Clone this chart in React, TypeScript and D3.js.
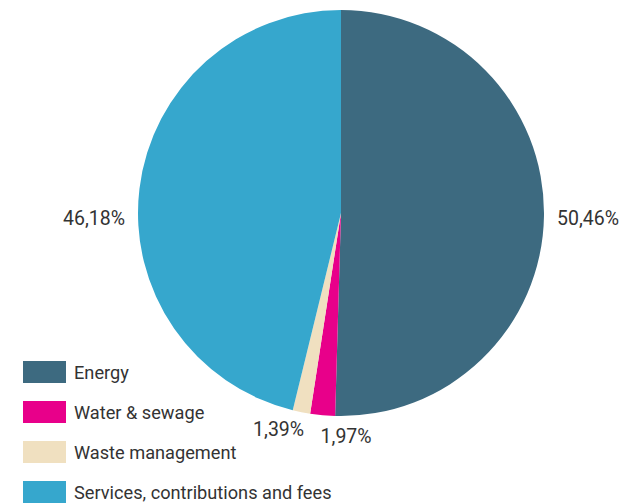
import React from "react";
import * as d3 from "d3";

const categories = ["Energy", "Water & sewage", "Waste management", "Services, contributions and fees"];
const values = [50.46, 1.97, 1.39, 46.18];
const valueLabels = ["50,46%", "1,97%", "1,39%", "46,18%"];
const colors = ["#3d6a80", "#e8008a", "#f0e0c0", "#36a7cd"];

const W = 623;
const H = 504;
const cx = 341;
const cy = 213;
const R = 203;

export default function App() {
  const pie = d3.pie<number>().sort(null).value((d) => d)(values);
  const arc = d3.arc<d3.PieArcDatum<number>>().innerRadius(0).outerRadius(R);
  const font = "Roboto, 'Liberation Sans', sans-serif";

  const labelPos = (p: d3.PieArcDatum<number>, i: number) => {
    const frac = (p.endAngle - p.startAngle) / (2 * Math.PI);
    const mid = (p.startAngle + p.endAngle) / 2;
    if (frac > 0.2) {
      const side = Math.sin(mid) >= 0 ? 1 : -1;
      return { x: cx + side * (R + 13), y: cy + 12, anchor: side > 0 ? "start" : "end" };
    }
    const rr = R + 22;
    const x = cx + Math.sin(mid) * rr;
    const y = cy - Math.cos(mid) * rr;
    const small = pie.filter((q) => (q.endAngle - q.startAngle) / (2 * Math.PI) <= 0.2);
    const idx = small.indexOf(p);
    return idx === 0
      ? { x: x, y: y + 6, anchor: "start" }
      : { x: x + 7, y: y + 2, anchor: "end" };
  };

  return (
    <svg width={W} height={H} style={{ position: "absolute", left: 0, top: 0, background: "#fff" }}>
      <g transform={`translate(${cx},${cy})`}>
        {pie.map((p, i) => (
          <path key={i} d={arc(p) || ""} fill={colors[i]} />
        ))}
      </g>
      {pie.map((p, i) => {
        const l = labelPos(p, i);
        return (
          <text key={i} x={l.x} y={l.y} textAnchor={l.anchor as any} fontFamily={font} fontSize={19.5} fill="#333">
            {valueLabels[i]}
          </text>
        );
      })}
      {categories.map((c, i) => (
        <g key={c} transform={`translate(23,${361 + i * 40})`}>
          <rect width={43} height={22} fill={colors[i]} />
          <text x={51} y={18} fontFamily={font} fontSize={18.2} fill="#333">
            {c}
          </text>
        </g>
      ))}
    </svg>
  );
}
